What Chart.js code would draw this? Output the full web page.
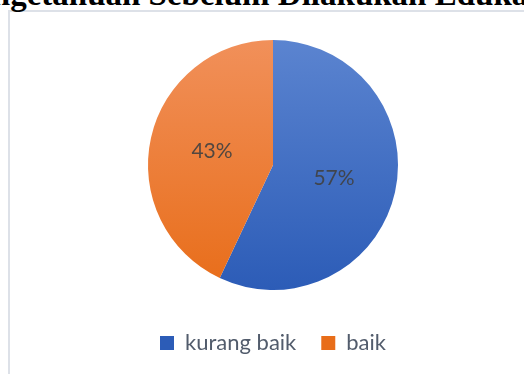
<!DOCTYPE html>
<html>
<head>
<meta charset="utf-8">
<script src="https://cdn.jsdelivr.net/npm/chart.js@4"></script>
<style>
  html, body { margin: 0; padding: 0; background: #fff; overflow: hidden; }
  #wrap { position: relative; width: 524px; height: 374px; }
  #frame { position: absolute; left: 8px; top: 10px; width: 600px; height: 500px;
           border-left: 2px solid #dde1e8; border-top: 2px solid #dde1e8; }
  #judul { position: absolute; left: -43px; top: -22px; white-space: nowrap;
           font-family: "Liberation Serif", serif; font-weight: bold; font-size: 33px;
           line-height: 33px; color: #000; }
  canvas { position: absolute; left: 0; top: 0; }
</style>
</head>
<body>
<div id="wrap">
  <div id="frame"></div>
  <div id="judul">Pengetahuan Sebelum Dilakukan Edukasi</div>
  <canvas id="grafikPie" width="524" height="374"></canvas>
</div>
<script>
// data dari gambar
const kategori = ["kurang baik", "baik"];
const persen = [57, 43];
const warnaAtas = ["#5b84d0", "#f1905a"];
const warnaBawah = ["#2c5cb7", "#e86d19"];

function warnaGradien(context) {
    const chart = context.chart;
    const area = chart.chartArea;
    const i = context.dataIndex;
    if (!area) return warnaBawah[i];
    const g = chart.ctx.createLinearGradient(0, area.top, 0, area.bottom);
    g.addColorStop(0, warnaAtas[i]);
    g.addColorStop(1, warnaBawah[i]);
    return g;
}

// label persen di dalam potongan
const labelPersen = {
    id: "labelPersen",
    afterDatasetsDraw(chart) {
        const ctx = chart.ctx;
        const meta = chart.getDatasetMeta(0);
        ctx.save();
        ctx.font = "21px Lato";
        ctx.fillStyle = "rgba(64,64,64,0.9)";
        ctx.textAlign = "center";
        ctx.textBaseline = "middle";
        meta.data.forEach((arc, i) => {
            const pos = arc.tooltipPosition();
            ctx.fillText(persen[i] + "%", pos.x, pos.y);
        });
        ctx.restore();
    }
};

const ctx = document.getElementById("grafikPie").getContext("2d");
new Chart(ctx, {
    type: "pie",
    data: {
        labels: kategori,
        datasets: [{
            data: persen,
            backgroundColor: warnaGradien,
            borderWidth: 0
        }]
    },
    options: {
        responsive: false,
        animation: false,
        layout: { padding: { top: 40, left: 22, right: 0, bottom: 10 } },
        plugins: {
            tooltip: { enabled: false },
            legend: {
                position: "bottom",
                title: {
                    display: true,
                    text: "",
                    font: { size: 10 },
                    padding: { top: 5, bottom: 0 }
                },
                labels: {
                    color: "#525c6c",
                    font: { family: "Lato", size: 22 },
                    boxWidth: 14,
                    boxHeight: 14,
                    padding: 25
                }
            }
        }
    },
    plugins: [labelPersen]
});
</script>
</body>
</html>
